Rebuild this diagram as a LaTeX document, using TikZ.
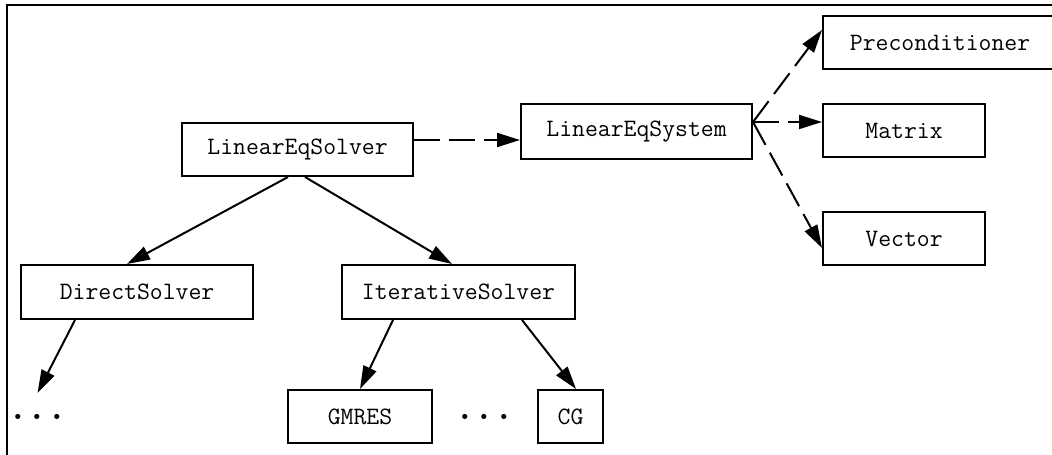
\documentclass[tikz,border=0pt]{standalone}
\usetikzlibrary{arrows.meta}

\begin{document}
\begin{tikzpicture}[x=0.5pt, y=-0.5pt,
	box/.style = {draw, line width=1pt, inner sep=0pt, minimum height=26.5pt, font=\fontsize{12.5}{14}\selectfont\ttfamily},
	arr/.style = {-{Triangle[length=11.5pt,width=7pt]}, line width=1pt},
	darr/.style = {arr, dash pattern=on 13pt off 4.5pt},
	dots/.style = {inner sep=0pt, font=\fontsize{18.6}{18.6}\selectfont\ttfamily\bfseries}]

	\clip (0,0) rectangle (1052,454);
	\draw [line width=1pt] (7,470) -- (7,5) -- (1070,5);

	\node [box, minimum width=115.5pt] (solver) at (297.5,149.5) {LinearEqSolver};
	\node [box, minimum width=115.5pt, minimum height=27.5pt] (system) at (636.5,131.5) {LinearEqSystem};

	\node [box, minimum width=117pt] (precond) at (940,42.5) {Preconditioner};
	\node [box, minimum width=81pt] (matrix) at (904,131) {Matrix};
	\node [box, minimum width=81pt] (vector) at (904,238.5) {Vector};

	\node [box, minimum width=116pt, minimum height=27pt] (direct) at (137,292) {DirectSolver};
	\node [box, minimum width=116.5pt, minimum height=27pt] (iter) at (458.5,292) {IterativeSolver};

	\node [box, minimum width=72pt] (gmres) at (360,416.5) {GMRES};
	\node [box, minimum width=32.5pt] (cg) at (570.5,416.5) {CG};

	%\node [below] at (37.5,417) {$\ldots$};
	\node [dots] (dotsA) at (37.5,417) {...};
	\node [dots] (dotsB) at (484.5,417) {...};

	\draw [darr] ([yshift=4.75pt]solver.east) -- ([yshift=-4.25pt]system.west);

	\draw [arr] ([xshift=-4.75pt]solver.south) -- ([xshift=-5pt]direct.north);
	\draw [arr] ([xshift=3.75pt]solver.south) -- ([xshift=-3.25pt]iter.north);

	\draw [arr] ([xshift=-31pt]direct.south) -- ([yshift=12pt]dotsA.center);
	\draw [arr] ([xshift=-32.75pt]iter.south) -- (gmres.north);
	\draw [arr] ([xshift=31.75pt]iter.south) -- ([xshift=2.75pt]cg.north);

	\draw [darr] ([yshift=4.75pt]system.east) -- ([yshift=6.25pt]precond.west);
	\draw [darr] ([yshift=4.75pt]system.east) -- ([yshift=4.5pt]matrix.west);
	\draw [darr] ([yshift=4.75pt]system.east) -- ([yshift=-4.75pt]vector.west);

\end{tikzpicture}
\end{document}
